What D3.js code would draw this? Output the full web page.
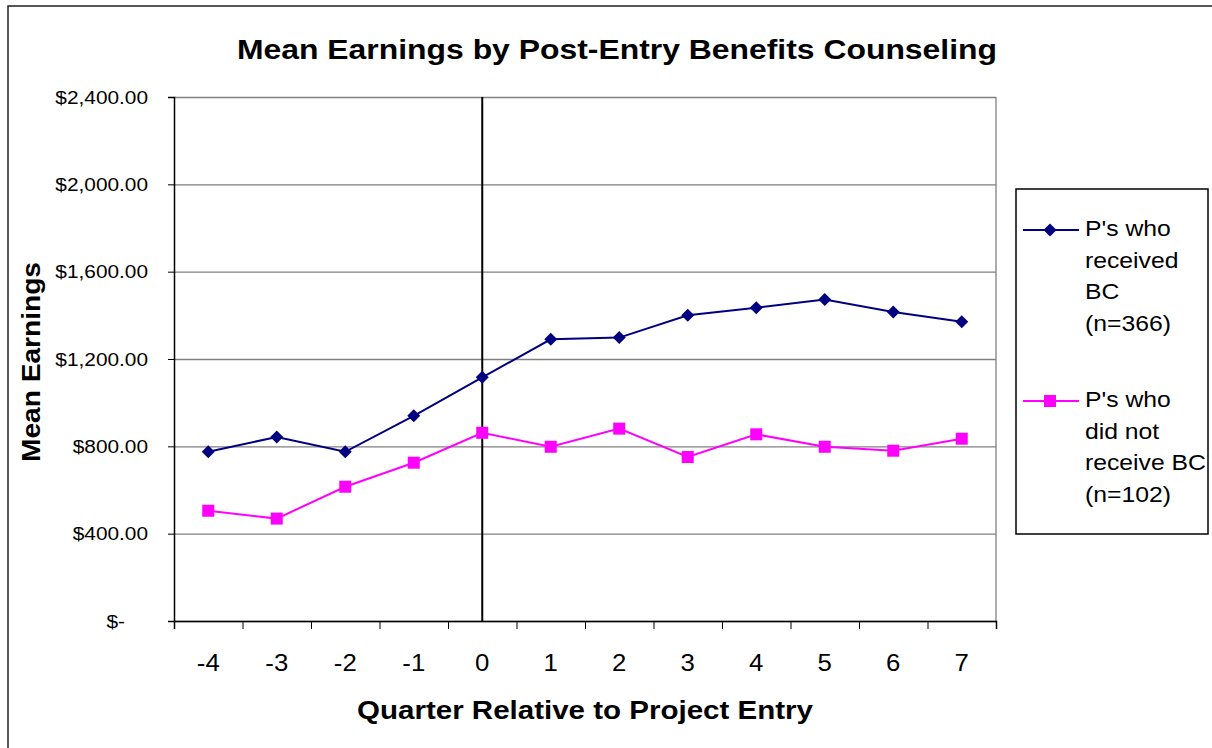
<!DOCTYPE html>
<html>
<head>
<meta charset="utf-8">
<script src="https://cdn.jsdelivr.net/npm/d3@7"></script>
<style>
  body { margin: 0; background: #fff; }
  text { font-family: "Liberation Sans", Arial, sans-serif; fill: #000; }
</style>
</head>
<body>
<script>
// chart values
const quarters = ['-4', '-3', '-2', '-1', '0', '1', '2', '3', '4', '5', '6', '7'];
const receivedBC = [775, 843, 775, 940, 1116, 1290, 1298, 1400, 1435, 1472, 1415, 1371];
const noBC = [505, 469, 615, 725, 862, 798, 881, 751, 855, 798, 780, 835];
const yTicks = [0, 400, 800, 1200, 1600, 2000, 2400];
const entryQuarter = '0';
const legendReceived = ["P's who", 'received', 'BC', '(n=366)'];
const legendNot = ["P's who", 'did not', 'receive BC', '(n=102)'];

const w = 1212;
const h = 748;
const pLeft = 174, pRight = 996, pTop = 97, pBottom = 621;
const navy = '#000080';
const pink = '#ff00ff';

const svg = d3.select('body').append('svg').attr('width', w).attr('height', h);

// the source image is stretched sideways, so text gets widened a bit
function stretch(sel, k) {
  sel.each(function () {
    const len = this.getComputedTextLength();
    d3.select(this).attr('textLength', len * k).attr('lengthAdjust', 'spacingAndGlyphs');
  });
}

// outer frame (right and bottom edges fall outside the picture)
svg.append('rect').attr('x', 8).attr('y', 6).attr('width', w).attr('height', h)
  .attr('fill', 'none').attr('stroke', '#222').attr('stroke-width', 1.5);

const x = d3.scaleBand().domain(quarters).range([pLeft, pRight]);
const xEdge = d3.scaleLinear().domain([0, quarters.length]).range([pLeft, pRight]);
const y = d3.scaleLinear().domain([0, 2400]).range([pBottom, pTop]);

// gridlines
svg.append('g').attr('transform', `translate(${pLeft},0)`)
  .call(d3.axisLeft(y).tickValues(yTicks).tickSize(-(pRight - pLeft)).tickFormat(''))
  .call(g => g.select('.domain').remove())
  .call(g => g.selectAll('line').attr('stroke', '#808080').attr('stroke-width', 1.3));

// right edge of plot
svg.append('line').attr('x1', pRight).attr('x2', pRight).attr('y1', pTop).attr('y2', pBottom)
  .attr('stroke', '#808080').attr('stroke-width', 1.3);

// y axis
const yAxis = svg.append('g').attr('transform', `translate(${pLeft},0)`)
  .call(d3.axisLeft(y).tickValues(yTicks).tickSize(6).tickPadding(20)
    .tickFormat(d => d === 0 ? '$-' : d3.format('$,.2f')(d)));
yAxis.select('.domain').attr('stroke', '#000').attr('stroke-width', 1.5);
yAxis.selectAll('line').attr('stroke', '#000');
yAxis.selectAll('text').attr('font-size', 17.5).attr('fill', '#000')
  .attr('x', d => d === 0 ? -49 : -26).attr('dy', '0.36em');
stretch(yAxis.selectAll('text'), 1.19);

// x axis ticks at category edges
const xTickAxis = svg.append('g').attr('transform', `translate(0,${pBottom})`)
  .call(d3.axisBottom(xEdge).tickValues(d3.range(quarters.length + 1)).tickSize(8).tickFormat(''));
xTickAxis.select('.domain').attr('stroke', '#000').attr('stroke-width', 1.5);
xTickAxis.selectAll('line').attr('stroke', '#000');

// x labels at category centres
const xAxis = svg.append('g').attr('transform', `translate(0,${pBottom})`)
  .call(d3.axisBottom(x).tickSize(0));
xAxis.select('.domain').remove();
xAxis.selectAll('text').attr('font-size', 23).attr('fill', '#000').attr('y', 50).attr('dy', 0);
stretch(xAxis.selectAll('text'), 1.12);

// project entry line
svg.append('line')
  .attr('x1', x(entryQuarter) + x.bandwidth() / 2).attr('x2', x(entryQuarter) + x.bandwidth() / 2)
  .attr('y1', pTop).attr('y2', pBottom)
  .attr('stroke', '#000').attr('stroke-width', 2);

const cx = d => x(d) + x.bandwidth() / 2;
const line = d3.line().x(d => cx(d.q)).y(d => y(d.v));

const seriesA = quarters.map((q, i) => ({ q: q, v: receivedBC[i] }));
const seriesB = quarters.map((q, i) => ({ q: q, v: noBC[i] }));

svg.append('path').datum(seriesB).attr('d', line)
  .attr('fill', 'none').attr('stroke', pink).attr('stroke-width', 2);
svg.append('path').datum(seriesA).attr('d', line)
  .attr('fill', 'none').attr('stroke', navy).attr('stroke-width', 2);

svg.selectAll('.pt-a').data(seriesA).enter().append('rect')
  .attr('class', 'pt-a')
  .attr('x', -4.6).attr('y', -4.6).attr('width', 9.2).attr('height', 9.2)
  .attr('transform', d => `translate(${cx(d.q)},${y(d.v)}) rotate(45)`)
  .attr('fill', navy);

svg.selectAll('.pt-b').data(seriesB).enter().append('rect')
  .attr('class', 'pt-b')
  .attr('x', d => cx(d.q) - 6).attr('y', d => y(d.v) - 6)
  .attr('width', 12).attr('height', 12)
  .attr('fill', pink);

// title
svg.append('text').attr('x', 617).attr('y', 59).attr('text-anchor', 'middle')
  .attr('font-size', 28).attr('font-weight', 'bold')
  .attr('textLength', 760).attr('lengthAdjust', 'spacingAndGlyphs')
  .text('Mean Earnings by Post-Entry Benefits Counseling');

// axis titles
svg.append('text').attr('x', (pLeft + pRight) / 2).attr('y', 719).attr('text-anchor', 'middle')
  .attr('font-size', 25).attr('font-weight', 'bold')
  .attr('textLength', 456).attr('lengthAdjust', 'spacingAndGlyphs')
  .text('Quarter Relative to Project Entry');

svg.append('text').attr('transform', 'translate(40,362) rotate(-90)').attr('text-anchor', 'middle')
  .attr('font-size', 25).attr('font-weight', 'bold')
  .attr('textLength', 200).attr('lengthAdjust', 'spacingAndGlyphs')
  .text('Mean Earnings');

// legend
const legend = svg.append('g');
legend.append('rect').attr('x', 1016).attr('y', 189).attr('width', 192).attr('height', 345)
  .attr('fill', '#fff').attr('stroke', '#000').attr('stroke-width', 1.5);

function legendEntry(lines, baseY, color, isDiamond) {
  const my = baseY - 6;
  legend.append('line').attr('x1', 1023).attr('x2', 1079).attr('y1', my).attr('y2', my)
    .attr('stroke', color).attr('stroke-width', 2);
  if (isDiamond) {
    legend.append('rect').attr('x', -4.6).attr('y', -4.6).attr('width', 9.2).attr('height', 9.2)
      .attr('transform', `translate(1050,${my}) rotate(45)`).attr('fill', color);
  } else {
    legend.append('rect').attr('x', 1044).attr('y', my - 6).attr('width', 12).attr('height', 12)
      .attr('fill', color);
  }
  const t = legend.selectAll(null).data(lines).enter().append('text')
    .attr('x', 1085).attr('y', (d, i) => baseY + i * 31.5)
    .attr('font-size', 21.5).text(d => d);
  stretch(t, 1.15);
}
legendEntry(legendReceived, 236, navy, true);
legendEntry(legendNot, 407, pink, false);
</script>
</body>
</html>
